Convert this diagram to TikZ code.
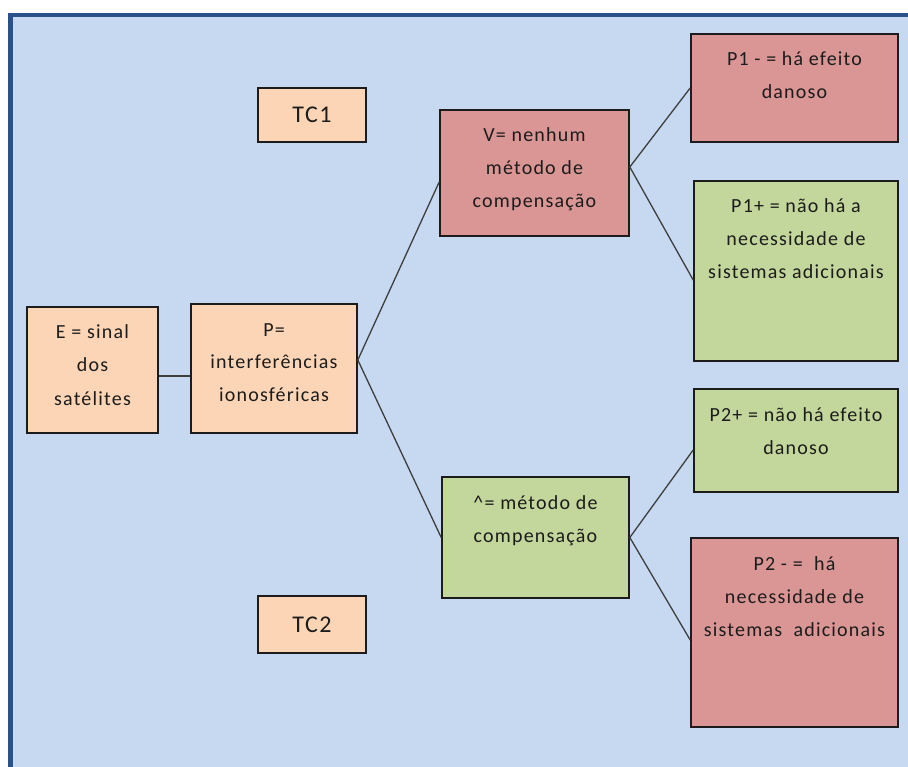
\documentclass[tikz,border=0pt]{standalone}
\usepackage{fontspec}
\setmainfont{Carlito}[LetterSpace=6]
\usetikzlibrary{calc}
\definecolor{bgblue}{HTML}{C6D9F1}
\definecolor{frameblue}{HTML}{2A5189}
\definecolor{peach}{HTML}{FBD5B5}
\definecolor{rose}{HTML}{D99694}
\definecolor{olive}{HTML}{C3D69B}
\definecolor{ink}{HTML}{1C1C1C}
% text block of a box: width, height, lines (first baseline 32pt below the top)
\newcommand{\boxlines}[3]{\parbox[c][#2][t]{#1}{\centering\rule{0pt}{32pt}#3}}
\begin{document}
\begin{tikzpicture}[x=1pt,y=-1pt,
  box/.style={draw=ink, line width=1.6pt, inner sep=0pt, text=ink,
    font=\fontsize{20pt}{33pt}\selectfont},
  tcbox/.style={box, fill=peach, minimum width=108pt,
    font=\fontsize{24pt}{28pt}\selectfont},
  link/.style={draw=ink!85, line width=1.3pt}]
\useasboundingbox (0,0) rectangle (908,767);
\clip (0,0) rectangle (908,767);
% panel
\draw[fill=bgblue, draw=frameblue, line width=4.5pt] (10.5,15) rectangle (940,800);

% boxes
\node[tcbox, minimum height=54pt] (tc1) at (312,115) {TC1};
\node[tcbox, minimum height=57pt] (tc2) at (312,624.5) {TC2};
\node[box, fill=peach] (E) at (92.5,370)
  {\boxlines{131pt}{126pt}{E = sinal\\dos\\satélites}};
\node[box, fill=peach] (P) at (274,368.5)
  {\boxlines{166pt}{129pt}{P=\\interferências\\ionosféricas}};
\node[box, fill=rose] (V) at (534.5,173)
  {\boxlines{189pt}{126pt}{V= nenhum\\método de\\compensação}};
\node[box, fill=olive] (C) at (535.5,537.5)
  {\boxlines{187pt}{121pt}{\textasciicircum= método de\\compensação}};
\node[box, fill=rose] (P1m) at (794.5,88)
  {\boxlines{207pt}{108pt}{P1 - = há efeito\\danoso}};
\node[box, fill=olive] (P1p) at (796,271)
  {\boxlines{204pt}{180pt}{P1+ = não há a\\necessidade de\\sistemas adicionais}};
\node[box, fill=olive] (P2p) at (796,440.5)
  {\boxlines{204pt}{103pt}{P2+ = não há efeito\\danoso}};
\node[box, fill=rose] (P2m) at (794.5,632.5)
  {\boxlines{207pt}{189pt}{P2 - = \ há\\necessidade de\\sistemas \ adicionais}};

% connectors
\draw[link] ([yshift=-6pt]E.east) -- ([yshift=-7.5pt]P.west);
\draw[link] ([yshift=8.5pt]P.east) -- ([yshift=-9pt]V.west);
\draw[link] ([yshift=8.5pt]P.east) -- (C.west);
\draw[link] ([yshift=6pt]V.east) -- (P1m.west);
\draw[link] ([yshift=6pt]V.east) -- ([yshift=-9pt]P1p.west);
\draw[link] (C.east) -- ([yshift=-9.5pt]P2p.west);
\draw[link] (C.east) -- ([yshift=-7.5pt]P2m.west);
\end{tikzpicture}
\end{document}
